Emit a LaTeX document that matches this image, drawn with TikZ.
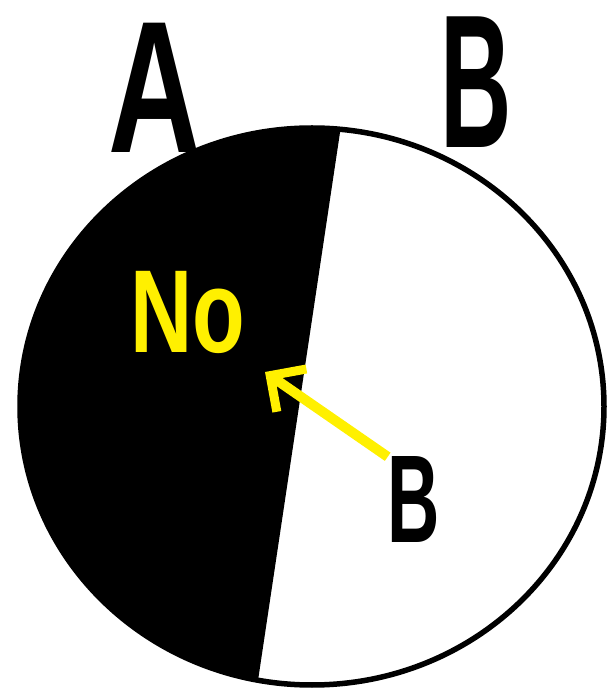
\documentclass[tikz,border=0pt]{standalone}
\usepackage{fontspec}
\setmainfont{Liberation Sans}
\usetikzlibrary{arrows.meta}
\definecolor{markyellow}{RGB}{255,240,0}
\tikzset{
  biglabel/.style={inner sep=0pt, transform shape, font=\bfseries},
  pointer/.style={markyellow, line width=10pt,
    -{Straight Barb[length=26pt, width=52pt, line width=9pt]}}
}
\begin{document}
\begin{tikzpicture}[x=1pt, y=1pt]
    \useasboundingbox (0,0) rectangle (606,689);

    % Disc split in two
    \begin{scope}
        \clip (312,282.5) ellipse [x radius=292, y radius=278.5];
        \fill[black] (-10,-50) -- (250,-45) -- (348,610) -- (-10,610) -- cycle;
    \end{scope}
    \draw[line width=5.5pt] (312,282.5) ellipse [x radius=292, y radius=278.5];

    % Labels of the two halves
    \node[biglabel, xscale=0.68] (labelA) at (155,601) {\fontsize{188}{190}\selectfont A};
    \node[biglabel, xscale=0.52] (labelB) at (476,607) {\fontsize{190}{192}\selectfont B};

    % Text on the black side and the pointer
    \node[biglabel, xscale=0.73, markyellow] (noText) at (188,377) {\fontsize{118}{120}\selectfont No};
    \node[biglabel, xscale=0.58] (pointB) at (414,189) {\fontsize{125}{127}\selectfont B};
    \coordinate (arrowTip) at (265,317);
    \draw[pointer] (pointB.north west) -- (arrowTip);
\end{tikzpicture}
\end{document}
